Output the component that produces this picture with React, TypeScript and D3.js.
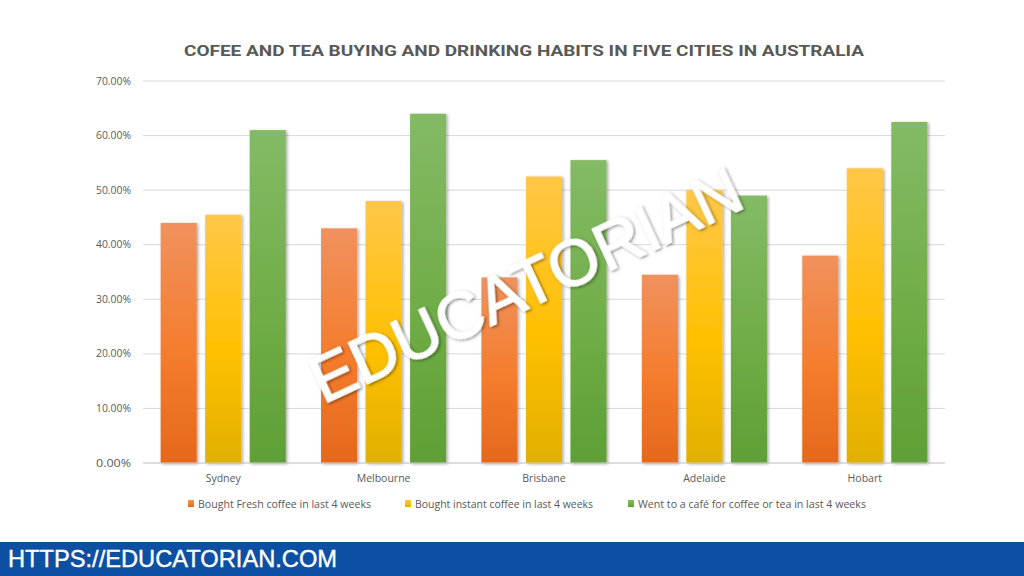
import React from 'react';
import * as d3 from 'd3';

const cities = ['Sydney', 'Melbourne', 'Brisbane', 'Adelaide', 'Hobart'];
const seriesNames = [
  'Bought Fresh coffee in last 4 weeks',
  'Bought instant coffee in last 4 weeks',
  'Went to a café for coffee or tea in last 4 weeks',
];
const freshCoffee = [0.44, 0.43, 0.34, 0.345, 0.38];
const instantCoffee = [0.455, 0.48, 0.525, 0.50, 0.54];
const cafe = [0.61, 0.64, 0.555, 0.49, 0.625];
const yTicks = [0, 0.1, 0.2, 0.3, 0.4, 0.5, 0.6, 0.7];
const title = 'COFEE AND TEA BUYING AND DRINKING HABITS IN FIVE CITIES IN AUSTRALIA';

const gradients = [
  { id: 'gOrange', top: '#F0915E', mid: '#F47C2C', bot: '#E5681C' },
  { id: 'gYellow', top: '#FFC748', mid: '#FFC000', bot: '#E1B000' },
  { id: 'gGreen', top: '#84BA66', mid: '#70AD47', bot: '#5E9F36' },
];

export default function App() {
  const W = 1024, H = 576;
  const left = 143, right = 945, top = 81, bottom = 463;
  const series = [freshCoffee, instantCoffee, cafe];

  const x0 = d3.scaleBand<string>().domain(cities).range([left, right]).paddingInner(0.22).paddingOuter(0.11);
  const x1 = d3.scaleBand<number>().domain([0, 1, 2]).range([0, x0.bandwidth()]).paddingInner(0.19);
  const y = d3.scaleLinear().domain([0, 0.7]).range([bottom, top]);
  const fmt = d3.format('.2%');

  const legendX = [188, 405, 628];
  const legendLen = [173, 178, 228];

  return (
    <svg width={W} height={H} style={{ position: 'fixed', left: 0, top: 0, background: '#fff' }}
      fontFamily="'Open Sans', Roboto, sans-serif">
      <defs>
        {gradients.map(g => (
          <linearGradient key={g.id} id={g.id} x1="0" y1="0" x2="0" y2="1">
            <stop offset="0" stopColor={g.top} />
            <stop offset="0.55" stopColor={g.mid} />
            <stop offset="1" stopColor={g.bot} />
          </linearGradient>
        ))}
        <filter id="shadow" x="-20%" y="-5%" width="150%" height="115%">
          <feDropShadow dx="1.5" dy="1" stdDeviation="1.4" floodColor="#000" floodOpacity="0.35" />
        </filter>
        <filter id="wmShadow" x="-10%" y="-10%" width="120%" height="130%">
          <feDropShadow dx="1" dy="1.5" stdDeviation="1.6" floodColor="#000" floodOpacity="0.5" />
        </filter>
      </defs>
      <rect x={0} y={0} width={W} height={H} fill="#fff" />

      <text x={524} y={56} textAnchor="middle" fontSize={15} fontWeight="bold" fill="#595959"
        fontFamily="Roboto, sans-serif"
        textLength={680} lengthAdjust="spacingAndGlyphs">{title}</text>

      {yTicks.map(t => (
        <g key={t}>
          <line x1={left} x2={right} y1={y(t)} y2={y(t)} stroke="#D9D9D9" strokeWidth={1} />
          <text x={131} y={y(t) + 3.5} textAnchor="end" fontSize={10} fill="#595959"
            textLength={35} lengthAdjust="spacingAndGlyphs">{fmt(t)}</text>
        </g>
      ))}

      {cities.map((c, i) => (
        <g key={c} transform={`translate(${x0(c)},0)`}>
          {series.map((s, k) => (
            <rect key={k} x={x1(k)} y={y(s[i])} width={x1.bandwidth()} height={bottom - y(s[i])}
              fill={`url(#${gradients[k].id})`} filter="url(#shadow)" />
          ))}
        </g>
      ))}
      <line x1={left} x2={right} y1={bottom} y2={bottom} stroke="#D0D0D0" strokeWidth={1} />

      {cities.map(c => (
        <text key={c} x={(x0(c) as number) + x0.bandwidth() / 2} y={482} textAnchor="middle"
          fontSize={10.5} fill="#595959">{c}</text>
      ))}

      {seriesNames.map((n, k) => (
        <g key={n}>
          <rect x={legendX[k]} y={500} width={6} height={7} fill={`url(#${gradients[k].id})`} />
          <text x={legendX[k] + 10} y={507.5} fontSize={10.5} fill="#595959"
            textLength={legendLen[k]} lengthAdjust="spacingAndGlyphs">{n}</text>
        </g>
      ))}

      <text x={528} y={290} textAnchor="middle" dominantBaseline="middle"
        transform="rotate(-25 528 290)" fontSize={64} fontFamily="'Liberation Sans', Arial, sans-serif"
        fill="#fff" stroke="#fff" strokeWidth={1.3} strokeLinejoin="round" filter="url(#wmShadow)"
        textLength={468} lengthAdjust="spacingAndGlyphs">EDUCATORIAN</text>

      <rect x={0} y={542} width={W} height={34} fill="#0D4FA3" />
      <text x={8} y={567} fontSize={24} fontFamily="'Liberation Sans', Arial, sans-serif"
        fill="#fff" stroke="#fff" strokeWidth={0.4}
        textLength={329} lengthAdjust="spacingAndGlyphs">HTTPS://EDUCATORIAN.COM</text>
    </svg>
  );
}
